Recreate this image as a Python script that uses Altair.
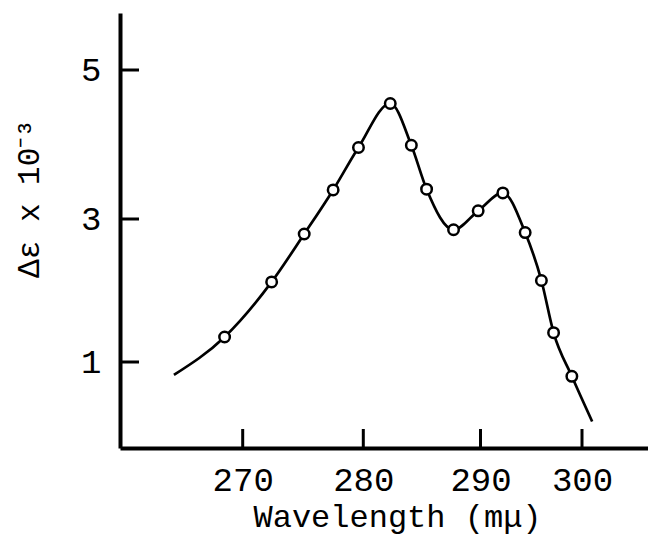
import altair as alt
import pandas as pd

# Data
wavelength = [268.5, 272.4, 275.1, 277.5, 279.6, 282.3, 284.1, 285.4, 287.7, 289.8,
              292.2, 294.4, 296.0, 297.2, 299.0]
delta_eps = [1.35, 2.12, 2.79, 3.39, 3.96, 4.55, 3.99, 3.40, 2.85, 3.11,
             3.35, 2.81, 2.14, 1.41, 0.80]
curve_start_x, curve_start_y = 264.3, 0.82
curve_end_x, curve_end_y = 301.0, 0.17
x_ticks = [270, 280, 290, 300]
y_ticks = [1, 3, 5]

FONT = "Liberation Mono"
X_MIN, Y_MIN = 259.83, -0.2
PLOT_W, PLOT_H = 528, 435

points = pd.DataFrame({"wl": wavelength, "de": delta_eps})
curve = pd.DataFrame({
    "wl": [curve_start_x] + wavelength + [curve_end_x],
    "de": [curve_start_y] + delta_eps + [curve_end_y],
})
xt = pd.DataFrame({"v": x_ticks})
yt = pd.DataFrame({"v": y_ticks})

# hand-drawn axes are slightly uneven; piecewise-linear scales follow the drawn tick positions
def x_scale():
    return alt.Scale(domain=[X_MIN, 270, 280, 290, 300, 306.5],
                     range=[0, 122.7, 243.3, 360.5, 462, PLOT_W], nice=False, zero=False)

def y_scale():
    return alt.Scale(domain=[Y_MIN, 1, 3, 5, 5.765],
                     range=[PLOT_H, 349, 206, 57, 0], nice=False, zero=False)

x_axis = alt.Axis(values=x_ticks, format="d", title="Wavelength (mμ)", grid=False, ticks=False,
                  orient="bottom", domainColor="black", domainWidth=4,
                  labelFont=FONT, labelFontSize=34, labelColor="black", labelPadding=15,
                  titleFont=FONT, titleFontSize=32, titleFontWeight="normal", titleColor="black",
                  titleX=277, titleY=78, titleAlign="center", titleBaseline="alphabetic")
y_axis = alt.Axis(values=y_ticks, format="d", title="Δε x 10⁻³", grid=False, ticks=False,
                  orient="left", domainColor="black", domainWidth=4,
                  labelFont=FONT, labelFontSize=34, labelColor="black", labelPadding=19,
                  titleFont=FONT, titleFontSize=31, titleFontWeight="normal", titleColor="black",
                  titleAngle=-90, titleX=-82, titleY=185, titleAlign="center",
                  titleBaseline="alphabetic")

line = alt.Chart(curve).mark_line(interpolate="monotone", color="black", strokeWidth=2.7).encode(
    x=alt.X("wl:Q", scale=x_scale(), axis=x_axis),
    y=alt.Y("de:Q", scale=y_scale(), axis=y_axis),
)

dots = alt.Chart(points).mark_point(shape="circle", filled=True, fill="white", stroke="black",
                                    strokeWidth=2.5, size=110, opacity=1).encode(
    x=alt.X("wl:Q", scale=x_scale(), axis=x_axis),
    y=alt.Y("de:Q", scale=y_scale(), axis=y_axis),
)

main = alt.layer(line, dots)

# inward-pointing tick marks along the two axes
xtick_marks = alt.Chart(xt).mark_tick(orient="vertical", size=19, thickness=3, color="black",
                                      opacity=1, yOffset=-9.5).encode(
    x=alt.X("v:Q", scale=x_scale(), axis=None),
    y=alt.YDatum(Y_MIN, type="quantitative", scale=y_scale(), axis=None),
)
ytick_marks = alt.Chart(yt).mark_tick(orient="horizontal", size=19, thickness=3, color="black",
                                      opacity=1, xOffset=9.5).encode(
    x=alt.XDatum(X_MIN, type="quantitative", scale=x_scale(), axis=None),
    y=alt.Y("v:Q", scale=y_scale(), axis=None),
)
ticks = alt.layer(xtick_marks, ytick_marks)

chart = alt.layer(main, ticks).resolve_scale(
    x="independent", y="independent"
).resolve_axis(
    x="independent", y="independent"
).properties(
    width=PLOT_W, height=PLOT_H,
    autosize="none",
    padding={"left": 112, "top": 5, "right": 0, "bottom": 88},
    background="white",
).configure_view(stroke=None)

chart.save("out.html", embed_options={"renderer": "svg", "actions": False})
